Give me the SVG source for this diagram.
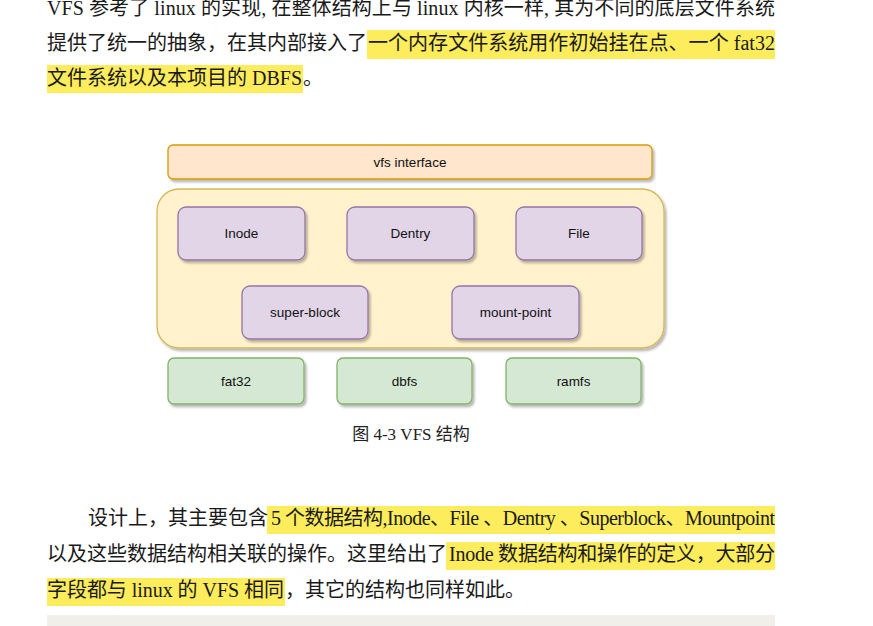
<svg xmlns="http://www.w3.org/2000/svg" width="873" height="626" viewBox="0 0 873 626">
<defs>
<style>
.body{font-family:"Liberation Serif","Noto Sans CJK SC",serif;font-size:20px;fill:#1a1a1a}
.hl{fill:#fdec5c}
.lbl{font-family:"Liberation Sans","Noto Sans",sans-serif;font-size:13.5px;fill:#111;text-anchor:middle;dominant-baseline:central}
.cap{font-family:"Liberation Serif","Noto Sans CJK SC",serif;font-size:17px;fill:#222;text-anchor:middle}
.orange{fill:#ffe6cc;stroke:#d79b00;stroke-width:1.3}
.yellow{fill:#fff2cc;stroke:#d6b656;stroke-width:1.3}
.purple{fill:#e1d5e7;stroke:#9673a6;stroke-width:1.3}
.green{fill:#d5e8d4;stroke:#82b366;stroke-width:1.3}
</style>
<filter id="sh" x="-10%" y="-10%" width="130%" height="140%">
<feDropShadow dx="2" dy="2.5" stdDeviation="1" flood-color="#000" flood-opacity="0.28"/>
</filter>
</defs>
<rect width="873" height="626" fill="#ffffff"/>

<g id="para1">
<text class="body" x="47" y="15" textLength="728" lengthAdjust="spacing">VFS 参考了 linux 的实现, 在整体结构上与 linux 内核一样, 其为不同的底层文件系统</text>
<rect class="hl" x="367" y="30" width="408" height="29"/>
<text class="body" x="47" y="50">提供了统一的抽象，在其内部接入了</text>
<text class="body" x="368" y="50" textLength="407" lengthAdjust="spacing">一个内存文件系统用作初始挂在点、一个 fat32</text>
<rect class="hl" x="47" y="65" width="256" height="28"/>
<text class="body" x="47" y="85" textLength="255" lengthAdjust="spacing">文件系统以及本项目的 DBFS</text>
<text class="body" x="303" y="85">。</text>
</g>

<g id="connectors"/>

<g id="vfs-interface">
<rect class="orange" x="168" y="145" width="484" height="34" rx="5" filter="url(#sh)"/>
<text class="lbl" x="410" y="162">vfs interface</text>
</g>
<g id="vfs-core">
<rect class="yellow" x="157" y="189" width="507" height="159" rx="22" filter="url(#sh)"/>
</g>
<g id="inode">
<rect class="purple" x="178" y="207" width="127" height="53" rx="8" filter="url(#sh)"/>
<text class="lbl" x="241.5" y="233">Inode</text>
</g>
<g id="dentry">
<rect class="purple" x="347" y="207" width="127" height="53" rx="8" filter="url(#sh)"/>
<text class="lbl" x="410.5" y="233">Dentry</text>
</g>
<g id="file">
<rect class="purple" x="516" y="207" width="126" height="53" rx="8" filter="url(#sh)"/>
<text class="lbl" x="579" y="233">File</text>
</g>
<g id="super-block">
<rect class="purple" x="242" y="286" width="126" height="53" rx="8" filter="url(#sh)"/>
<text class="lbl" x="305" y="312">super-block</text>
</g>
<g id="mount-point">
<rect class="purple" x="452" y="286" width="127" height="53" rx="8" filter="url(#sh)"/>
<text class="lbl" x="515.5" y="312">mount-point</text>
</g>
<g id="fat32">
<rect class="green" x="168" y="358" width="136" height="46" rx="6" filter="url(#sh)"/>
<text class="lbl" x="236" y="381">fat32</text>
</g>
<g id="dbfs">
<rect class="green" x="337" y="358" width="135" height="46" rx="6" filter="url(#sh)"/>
<text class="lbl" x="404.5" y="381">dbfs</text>
</g>
<g id="ramfs">
<rect class="green" x="506" y="358" width="135" height="46" rx="6" filter="url(#sh)"/>
<text class="lbl" x="573.5" y="381">ramfs</text>
</g>
<g id="caption">
<text class="cap" x="411" y="440">图 4-3 VFS 结构</text>
</g>

<g id="para2">
<rect class="hl" x="267" y="506" width="508" height="28"/>
<text class="body" x="88" y="525">设计上，其主要包含</text>
<text class="body" x="271" y="525" textLength="504" lengthAdjust="spacing">5 个数据结构,Inode、File 、Dentry 、Superblock、Mountpoint</text>
<rect class="hl" x="446" y="542" width="329" height="28"/>
<text class="body" x="47" y="561">以及这些数据结构相关联的操作。这里给出了</text>
<text class="body" x="449" y="561" textLength="326" lengthAdjust="spacing">Inode 数据结构和操作的定义，大部分</text>
<rect class="hl" x="47" y="578" width="238" height="28"/>
<text class="body" x="47" y="597" textLength="237" lengthAdjust="spacing">字段都与 linux 的 VFS 相同</text>
<text class="body" x="285" y="597">，其它的结构也同样如此。</text>
</g>
<g id="code-block">
<rect x="47" y="615" width="728" height="11" fill="#f0efe9"/>
</g>
</svg>
